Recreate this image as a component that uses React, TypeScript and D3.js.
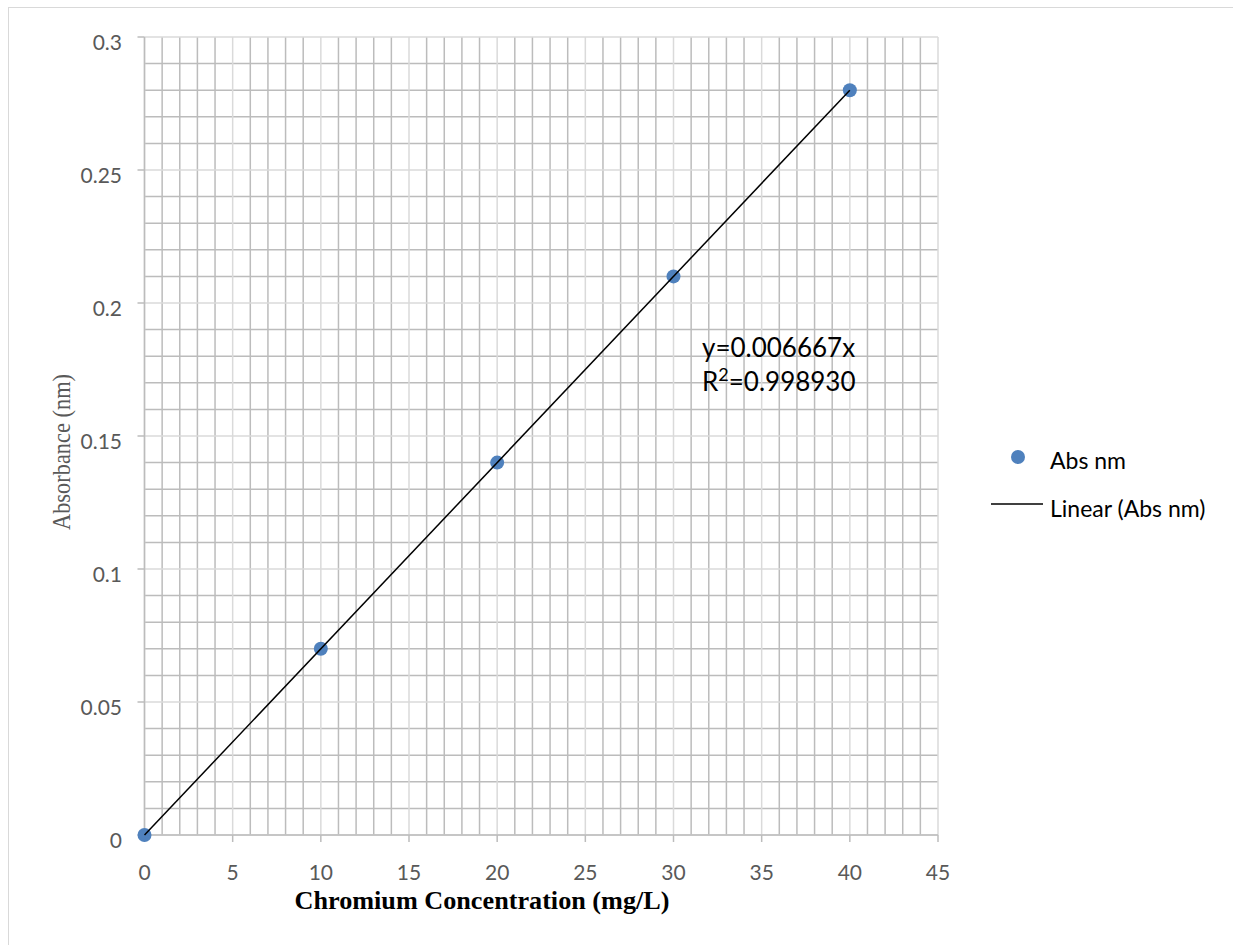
import React from "react";
import * as d3 from "d3";

const concentrations = [0, 10, 20, 30, 40];
const absorbance = [0, 0.07, 0.14, 0.21, 0.28];
const xTicks = [0, 5, 10, 15, 20, 25, 30, 35, 40, 45];
const yTicks = [0, 0.05, 0.1, 0.15, 0.2, 0.25, 0.3];
const xMinor = d3.range(0, 46, 1);
const yMinor = d3.range(0, 31, 1).map((v) => v / 100);
const equationText = "y=0.006667x";
const r2Value = "=0.998930";
const seriesName = "Abs nm";
const trendName = "Linear (Abs nm)";
const xTitle = "Chromium Concentration (mg/L)";
const yTitle = "Absorbance (nm)";

const W = 1233;
const H = 945;

export default function App() {
  const x = d3.scaleLinear().domain([0, 45]).range([144.5, 938]);
  const y = d3.scaleLinear().domain([0, 0.3]).range([835, 37]);

  // least-squares slope through origin
  const sxy = d3.sum(concentrations.map((c, i) => c * absorbance[i]));
  const sxx = d3.sum(concentrations.map((c) => c * c));
  const slope = sxy / sxx;
  const xMax = d3.max(concentrations) as number;
  const trend = d3.line<number>()
    .x((d) => x(d))
    .y((d) => y(slope * d))([0, xMax]);

  const isMajorX = (v: number) => v % 5 === 0;
  const isMajorY = (v: number) => Math.round(v * 100) % 5 === 0;

  const font = "Lato, 'Open Sans', sans-serif";
  const minorColor = "#bcbcbc";
  const majorColor = "#dadada";
  const gw = 1.5;

  return (
    <svg
      width={W}
      height={H}
      style={{ position: "absolute", left: 0, top: 0, background: "#fff" }}
    >
      <rect x={8.5} y={7.5} width={1240} height={960} fill="#fff" stroke="#d9d9d9" strokeWidth={1} />
      {/* minor grid */}
      <g>
        {xMinor.filter((v) => !isMajorX(v)).map((v) => (
          <line key={"vx" + v} x1={x(v)} x2={x(v)} y1={y(0)} y2={y(0.3)} stroke={minorColor} strokeWidth={gw} />
        ))}
        {yMinor.filter((v) => !isMajorY(v)).map((v) => (
          <line key={"hy" + v} x1={x(0)} x2={x(45)} y1={y(v)} y2={y(v)} stroke={minorColor} strokeWidth={gw} />
        ))}
      </g>
      {/* major grid */}
      <g>
        {xTicks.map((v) => (
          <line key={"mx" + v} x1={x(v)} x2={x(v)} y1={y(0)} y2={y(0.3)} stroke={majorColor} strokeWidth={gw} />
        ))}
        {yTicks.map((v) => (
          <line key={"my" + v} x1={x(0)} x2={x(45)} y1={y(v)} y2={y(v)} stroke={majorColor} strokeWidth={gw} />
        ))}
      </g>
      {/* axes */}
      <line x1={x(0)} x2={x(0)} y1={y(0)} y2={y(0.3)} stroke={minorColor} strokeWidth={gw} />
      <line x1={x(0)} x2={x(45)} y1={y(0)} y2={y(0)} stroke={minorColor} strokeWidth={gw} />
      {yTicks.map((v) => (
        <g key={"yt" + v}>
          <line x1={x(0) - 7} x2={x(0)} y1={y(v)} y2={y(v)} stroke={minorColor} strokeWidth={gw} />
          <text x={122} y={y(v) + 13} textAnchor="end" fontFamily={font} fontSize={21} fill="#595959">
            {String(v)}
          </text>
        </g>
      ))}
      {xTicks.map((v) => (
        <g key={"xt" + v}>
          <line x1={x(v)} x2={x(v)} y1={y(0)} y2={y(0) + 7} stroke={minorColor} strokeWidth={gw} />
          <text x={x(v)} y={880} textAnchor="middle" fontFamily={font} fontSize={21} fill="#595959">
            {String(v)}
          </text>
        </g>
      ))}
      {/* points */}
      {concentrations.map((c, i) => (
        <circle key={"p" + i} cx={x(c)} cy={y(absorbance[i])} r={7} fill="#4f81bd" />
      ))}
      {/* trendline */}
      <path d={trend ?? ""} fill="none" stroke="#000" strokeWidth={1.5} />
      {/* equation */}
      <text x={702} y={357} fontFamily={font} fontSize={26} fill="#000">{equationText}</text>
      <text x={702} y={391} fontFamily={font} fontSize={26} fill="#000">
        R<tspan fontSize={18} dy={-10}>2</tspan><tspan dy={10}>{r2Value}</tspan>
      </text>
      {/* titles */}
      <text
        x={482}
        y={909}
        textAnchor="middle"
        fontFamily="'Liberation Serif', 'Times New Roman', serif"
        fontWeight="bold"
        fontSize={25}
        textLength={375}
        lengthAdjust="spacingAndGlyphs"
        fill="#000"
      >
        {xTitle}
      </text>
      <text
        transform={`translate(70, ${452}) rotate(-90)`}
        textAnchor="middle"
        fontFamily="'Liberation Serif', 'Times New Roman', serif"
        fontSize={25}
        textLength={156}
        lengthAdjust="spacingAndGlyphs"
        fill="#595959"
      >
        {yTitle}
      </text>
      {/* legend */}
      <circle cx={1018} cy={457} r={7} fill="#4f81bd" />
      <text x={1050} y={469} fontFamily={font} fontSize={23} fill="#000">{seriesName}</text>
      <line x1={991} x2={1043} y1={504} y2={504} stroke="#000" strokeWidth={1.6} />
      <text x={1050} y={517} fontFamily={font} fontSize={23} fill="#000">{trendName}</text>
    </svg>
  );
}
